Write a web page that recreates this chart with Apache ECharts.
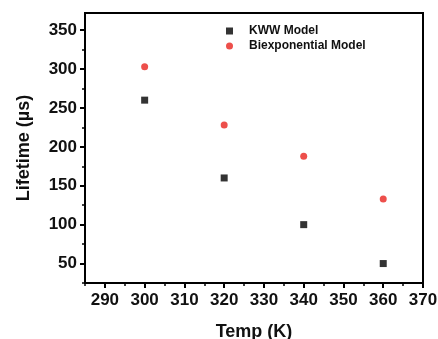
<!DOCTYPE html>
<html>
<head>
<meta charset="utf-8">
<script src="https://cdn.jsdelivr.net/npm/echarts@6/dist/echarts.min.js"></script>
<style>
html,body{margin:0;padding:0;background:#fff;}
#chart{width:438px;height:339px;}
</style>
</head>
<body>
<div id="chart"></div>
<script>
// Temperature (K) and fitted lifetimes (µs)
var temps = [300, 320, 340, 360];
var kwwLifetime = [260, 160, 100, 50];
var biexpLifetime = [303, 228, 188, 133];

var xMajorTicks = [290, 300, 310, 320, 330, 340, 350, 360, 370];
var xMinorTicks = [285, 295, 305, 315, 325, 335, 345, 355, 365];
var yMajorTicks = [50, 100, 150, 200, 250, 300, 350];
var yMinorTicks = [25, 75, 125, 175, 225, 275, 325];

var font = '"Liberation Sans", Arial, sans-serif';

function pairs(xs, ys) {
  return xs.map(function (x, i) { return [x, ys[i]]; });
}

var chart = echarts.init(document.getElementById('chart'), null, {renderer: 'canvas'});

var axisText = {color: '#111', fontFamily: font, fontWeight: 'bold', fontSize: 17};

chart.setOption({
  animation: false,
  backgroundColor: '#fff',
  grid: {
    left: 85, right: 15, top: 13, bottom: 56,
    outerBoundsMode: 'none', containLabel: false,
    show: true, borderColor: '#000', borderWidth: 2, backgroundColor: 'transparent'
  },
  legend: {
    left: 221, top: 20, orient: 'vertical',
    itemWidth: 7, itemHeight: 7, itemGap: 3,
    textStyle: {color: '#111', fontFamily: font, fontWeight: 'bold', fontSize: 12, padding: [0, 0, 0, 11]},
    data: [
      {name: 'KWW Model', icon: 'rect'},
      {name: 'Biexponential Model', icon: 'circle'}
    ]
  },
  xAxis: [{
    type: 'value', min: 285, max: 370,
    name: 'Temp (K)', nameLocation: 'middle', nameGap: 40,
    nameTextStyle: {color: '#111', fontFamily: font, fontWeight: 'bold', fontSize: 18},
    axisLine: {show: true, onZero: false, lineStyle: {color: '#000', width: 2}},
    axisTick: {show: true, inside: false, length: 5, lineStyle: {color: '#000', width: 2}, customValues: xMajorTicks},
    axisLabel: Object.assign({margin: 9, customValues: xMajorTicks, showMinLabel: true, showMaxLabel: true}, axisText),
    splitLine: {show: false}
  }, {
    type: 'value', min: 285, max: 370, position: 'bottom',
    axisLine: {show: false},
    axisTick: {show: true, inside: false, length: 3, lineStyle: {color: '#000', width: 1.5}, customValues: xMinorTicks},
    axisLabel: {show: false},
    splitLine: {show: false}
  }],
  yAxis: [{
    type: 'value', min: 25, max: 372,
    name: 'Lifetime (\u00b5s)', nameLocation: 'middle', nameGap: 52, nameRotate: 90,
    nameTextStyle: {color: '#111', fontFamily: font, fontWeight: 'bold', fontSize: 18},
    axisLine: {show: true, onZero: false, lineStyle: {color: '#000', width: 2}},
    axisTick: {show: true, inside: false, length: 5, lineStyle: {color: '#000', width: 2}, customValues: yMajorTicks},
    axisLabel: Object.assign({margin: 8, customValues: yMajorTicks}, axisText),
    splitLine: {show: false}
  }, {
    type: 'value', min: 25, max: 372, position: 'left',
    axisLine: {show: false},
    axisTick: {show: true, inside: false, length: 3, lineStyle: {color: '#000', width: 1.5}, customValues: yMinorTicks},
    axisLabel: {show: false},
    splitLine: {show: false}
  }],
  series: [{
    name: 'KWW Model', type: 'scatter', symbol: 'rect', symbolSize: 7,
    itemStyle: {color: '#000'},
    data: pairs(temps, kwwLifetime)
  }, {
    name: 'Biexponential Model', type: 'scatter', symbol: 'circle', symbolSize: 7,
    itemStyle: {color: '#e8231e'},
    data: pairs(temps, biexpLifetime)
  }]
});
</script>
</body>
</html>
